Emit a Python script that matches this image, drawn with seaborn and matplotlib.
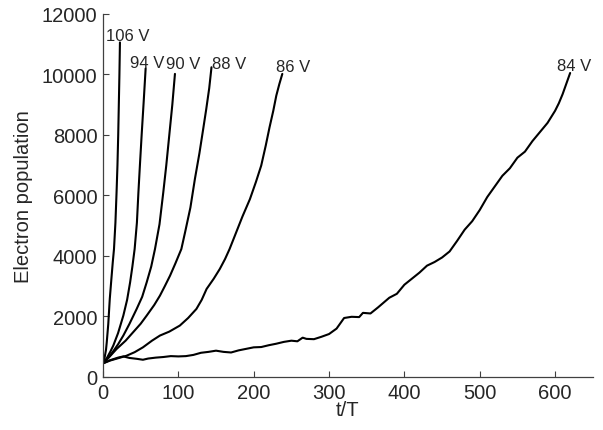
import pandas as pd
import seaborn as sns
import matplotlib.pyplot as plt

# Electron population vs t/T for several voltages
t_106 = [0, 2, 4, 5, 7, 9, 11, 13, 14.6, 16.5, 18, 19.2, 20.2, 21, 21.8, 22.5]
n_106 = [450, 620, 900, 1150, 1750, 2580, 3200, 3800, 4230, 5100, 6100, 7000, 8000, 9000, 10000, 11060]

t_94 = [0, 5, 10, 13.7, 20, 27, 32, 36, 39, 42, 45, 47, 49, 51.3, 54, 56.6]
n_94 = [450, 620, 850, 1040, 1450, 2030, 2550, 3130, 3650, 4230, 5100, 6100, 7000, 8000, 9100, 10200]

t_90 = [0, 5, 9, 15, 20, 27, 35, 44.7, 52, 58, 64, 69, 75, 80, 84, 88, 92, 95.5]
n_90 = [450, 580, 700, 900, 1080, 1370, 1750, 2250, 2650, 3130, 3650, 4230, 5050, 6100, 7000, 8000, 9000, 10020]

t_88 = [0, 8, 18, 30, 40, 50, 58, 68, 75.6, 82, 89, 96, 104, 109, 116, 122, 128, 133, 137, 141, 144]
n_88 = [450, 650, 925, 1200, 1480, 1760, 2030, 2380, 2690, 3000, 3350, 3750, 4230, 4790, 5600, 6550, 7400, 8200,
        8850, 9550, 10240]

t_86 = [0, 9, 20, 31, 42, 53, 65, 75.6, 88, 102, 113, 124, 131, 137.5, 147, 155, 162, 168, 175, 185,
        195, 203, 210, 216, 221, 226, 230, 234, 238]
n_86 = [450, 540, 620, 700, 820, 980, 1200, 1370, 1500, 1700, 1950, 2250, 2550, 2910, 3250, 3570, 3900, 4230,
        4670, 5300, 5880, 6450, 6990, 7650, 8250, 8800, 9300, 9680, 10020]

t_84 = [0, 10, 20, 27, 35, 45, 53, 60, 70, 80, 90, 100, 110, 120, 130, 140, 150, 160, 170, 180,
        190, 200, 210, 220, 230, 240, 250, 258, 265, 270, 280, 290, 300, 310, 320, 330, 340, 345,
        355, 365, 380, 390, 400, 410, 420, 430, 440, 450, 460, 470, 480, 490, 500, 510, 520, 530,
        540, 550, 560, 570, 580, 590, 600, 605, 610, 615, 620]
n_84 = [450, 560, 640, 680, 630, 600, 570, 610, 640, 660, 690, 680, 690, 730, 800, 830, 870, 830, 810, 880,
        930, 980, 990, 1050, 1100, 1160, 1200, 1180, 1300, 1260, 1250, 1330, 1420, 1600, 1950, 1990, 1980, 2120,
        2100, 2300, 2620, 2750, 3050, 3250, 3450, 3680, 3800, 3950, 4150, 4500, 4870, 5150, 5520, 5950, 6300, 6650,
        6900, 7250, 7450, 7800, 8100, 8400, 8800, 9050, 9350, 9700, 10050]

labels = ['106 V', '94 V', '90 V', '88 V', '86 V', '84 V']
label_t = [33, 58, 107, 168, 253, 625]
label_n = [11300, 10410, 10380, 10380, 10280, 10310]

series = [(t_106, n_106), (t_94, n_94), (t_90, n_90), (t_88, n_88), (t_86, n_86), (t_84, n_84)]
frames = []
for lab, (t, n) in zip(labels, series):
    frames.append(pd.DataFrame({'t': t, 'N': n, 'voltage': lab}))
df = pd.concat(frames, ignore_index=True)

sns.set_style('ticks')
plt.rcParams['font.family'] = ['Liberation Sans', 'DejaVu Sans']

fig = plt.figure(figsize=(6.03, 4.31), dpi=100)
ax = fig.add_axes([0.1708, 0.1230, 0.8122, 0.8422])

sns.lineplot(data=df, x='t', y='N', hue='voltage', palette=['black'] * 6,
             sort=False, estimator=None, linewidth=1.5, legend=False, ax=ax)

for lab, x, y in zip(labels, label_t, label_n):
    ax.text(x, y, lab, fontsize=12, ha='center', va='center')

ax.set_xlim(0, 650)
ax.set_ylim(0, 12000)
ax.set_xticks([0, 100, 200, 300, 400, 500, 600])
ax.set_yticks([0, 2000, 4000, 6000, 8000, 10000, 12000])
ax.tick_params(direction='in', length=4, width=0.8, color='#404040', labelsize=14.5, pad=4)
sns.despine(ax=ax)
for side in ['left', 'bottom']:
    ax.spines[side].set_color('#404040')
    ax.spines[side].set_linewidth(0.9)

ax.set_xlabel('t/T', fontsize=14.5, labelpad=-1)
ax.set_ylabel('Electron population', fontsize=14.5, labelpad=6)

fig.savefig('out.png', dpi=100)
